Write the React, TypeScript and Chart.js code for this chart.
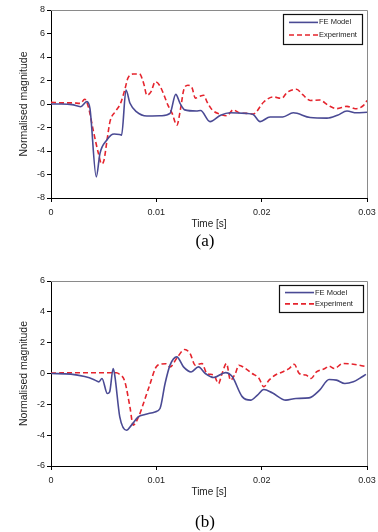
import React, { useEffect, useRef } from 'react';
import { Chart, registerables } from 'chart.js';
Chart.register(...registerables);

// ---------- data (time in seconds, normalised magnitude) ----------
const xTicks = [0, 0.01, 0.02, 0.03];
const seriesNames = ['FE Model', 'Experiment'];
const captions = ['(a)', '(b)'];

const feATime = [0, 0.001, 0.002, 0.0028, 0.0034, 0.0037, 0.0043, 0.00465, 0.0053, 0.0057, 0.006, 0.0065, 0.0067, 0.00712, 0.0075, 0.0081, 0.0091, 0.0105, 0.0113, 0.01184, 0.01225, 0.0127, 0.0138, 0.0142, 0.0151, 0.0161, 0.017, 0.0185, 0.0192, 0.01985, 0.0208, 0.022, 0.023, 0.0246, 0.0262, 0.0272, 0.0281, 0.029, 0.03];
const feAVal = [0, 0, -0.05, -0.23, 0.2, -0.4, -6.2, -4.2, -3.06, -2.64, -2.55, -2.6, -2.65, 1.19, 0.06, -0.65, -1.02, -1.0, -0.8, 0.82, 0.06, -0.5, -0.6, -0.55, -1.5, -0.95, -0.74, -0.8, -0.9, -1.5, -1.1, -1.1, -0.75, -1.15, -1.2, -0.95, -0.6, -0.75, -0.7];

const expATime = [0, 0.001, 0.002, 0.0028, 0.0032, 0.00355, 0.004, 0.0045, 0.0048, 0.00503, 0.0053, 0.0056, 0.0061, 0.0066, 0.007, 0.0073, 0.0078, 0.0084, 0.0088, 0.0091, 0.0095, 0.0099, 0.0103, 0.0108, 0.0111, 0.0115, 0.01195, 0.0123, 0.0126, 0.013, 0.0134, 0.0137, 0.0141, 0.0145, 0.0148, 0.0153, 0.016, 0.0167, 0.0173, 0.0179, 0.0186, 0.0192, 0.0202, 0.0211, 0.0219, 0.0224, 0.0233, 0.0239, 0.0246, 0.0255, 0.0263, 0.0271, 0.0281, 0.0289, 0.0297, 0.03];
const expAVal = [0.15, 0.1, 0.1, 0.05, 0.4, -0.25, -2.2, -4.2, -5.1, -4.8, -3.2, -1.5, -0.65, 0.05, 1.2, 2.2, 2.55, 2.55, 1.75, 0.75, 1.05, 1.9, 1.6, 0.6, -0.1, -0.8, -1.8, -0.4, 1.2, 1.6, 1.35, 0.5, 0.65, 0.75, 0.2, -0.5, -0.85, -1.0, -0.5, -0.75, -0.8, -0.85, 0.17, 0.6, 0.48, 0.97, 1.26, 0.8, 0.3, 0.34, -0.1, -0.4, -0.2, -0.4, -0.1, 0.3];

const feBTime = [0, 0.0019, 0.0032, 0.0041, 0.00455, 0.00484, 0.00535, 0.00557, 0.0059, 0.00605, 0.00653, 0.00717, 0.00764, 0.00828, 0.00892, 0.00987, 0.01035, 0.01083, 0.0113, 0.01194, 0.01258, 0.0133, 0.014, 0.01465, 0.01545, 0.01656, 0.0172, 0.01815, 0.01895, 0.0196, 0.0202, 0.021, 0.0223, 0.02325, 0.0245, 0.0255, 0.0264, 0.0271, 0.0279, 0.0287, 0.0293, 0.0299];
const feBVal = [0, -0.04, -0.2, -0.4, -0.54, -0.32, -1.3, -1.19, 0.32, -0.1, -2.81, -3.68, -3.35, -2.81, -2.66, -2.49, -2.27, -0.65, 0.54, 1.08, 0.43, 0.1, 0.43, 0, -0.26, 0.06, -0.2, -1.5, -1.73, -1.4, -1.04, -1.25, -1.73, -1.62, -1.58, -1.08, -0.39, -0.43, -0.65, -0.54, -0.32, -0.06];

const expBTime = [0, 0.003, 0.0062, 0.0065, 0.007, 0.0075, 0.0078, 0.0083, 0.0088, 0.0093, 0.0101, 0.0109, 0.0113, 0.012, 0.0127, 0.0132, 0.0137, 0.01433, 0.0148, 0.01545, 0.0159, 0.01624, 0.01666, 0.01704, 0.0175, 0.01783, 0.01847, 0.0191, 0.01975, 0.0202, 0.0207, 0.0213, 0.02197, 0.0226, 0.0231, 0.02357, 0.0242, 0.0247, 0.0252, 0.026, 0.0264, 0.0269, 0.0277, 0.0287, 0.0293, 0.03];
const expBVal = [0.03, 0.05, 0.05, -0.05, -0.5, -2.2, -3.35, -2.83, -1.9, -0.89, 0.52, 0.63, 0.43, 1.06, 1.56, 1.3, 0.54, 0.65, 0, -0.1, -0.65, 0, 0.65, -0.43, 0, 0.54, 0.32, 0, -0.32, -0.86, -0.43, -0.1, 0.1, 0.32, 0.6, 0, -0.1, -0.32, 0.1, 0.32, 0.48, 0.32, 0.65, 0.6, 0.54, 0.43];

// ---------- styling ----------
const SANS = '"Liberation Sans", Arial, sans-serif';
const FE_COLOR = '#4a4a94';
const EXP_COLOR = '#e5242d';
const TEXT_COLOR = '#222';

function pts(xs: number[], ys: number[]) {
  return xs.map((x, i) => ({ x, y: ys[i] }));
}

const framePlugin = {
  id: 'frameLegend',
  beforeDatasetsDraw(chart: any) {
    const { ctx, chartArea } = chart;
    ctx.save();
    ctx.strokeStyle = '#8a8a8a';
    ctx.lineWidth = 1;
    ctx.beginPath();
    ctx.moveTo(chartArea.left, chartArea.top + 0.5);
    ctx.lineTo(chartArea.right + 0.5, chartArea.top + 0.5);
    ctx.lineTo(chartArea.right + 0.5, chartArea.bottom);
    ctx.stroke();
    ctx.restore();
  },
  afterDraw(chart: any, _args: any, opts: any) {
    const { ctx, chartArea } = chart;
    const w = opts.w, h = opts.h;
    const x0 = chartArea.right - opts.offRight - w;
    const y0 = chartArea.top + opts.offTop;
    ctx.save();
    ctx.fillStyle = '#fff';
    ctx.fillRect(x0, y0, w, h);
    ctx.strokeStyle = '#111';
    ctx.lineWidth = 1.2;
    ctx.strokeRect(x0 + 0.5, y0 + 0.5, w, h);
    chart.data.datasets.forEach((ds: any, i: number) => {
      const y = y0 + h * (i === 0 ? 0.28 : 0.7);
      ctx.strokeStyle = ds.borderColor;
      ctx.lineWidth = ds.borderWidth;
      ctx.setLineDash(ds.borderDash || []);
      ctx.beginPath();
      ctx.moveTo(x0 + 6, y);
      ctx.lineTo(x0 + 35, y);
      ctx.stroke();
      ctx.setLineDash([]);
      ctx.fillStyle = '#222';
      ctx.font = `7.5px ${SANS}`;
      ctx.textBaseline = 'middle';
      ctx.textAlign = 'left';
      ctx.fillText(ds.label, x0 + 36, y);
    });
    ctx.restore();
  },
};

type PanelProps = {
  feX: number[]; feY: number[]; exX: number[]; exY: number[];
  yMin: number; yMax: number; padTop: number; top: number;
  legend: { w: number; h: number; offRight: number; offTop: number };
};

function Panel(p: PanelProps) {
  const ref = useRef<HTMLCanvasElement | null>(null);
  useEffect(() => {
    if (!ref.current) return;
    const chart = new Chart(ref.current, {
      type: 'line',
      data: {
        datasets: [
          {
            label: seriesNames[0],
            data: pts(p.feX, p.feY),
            borderColor: FE_COLOR,
            borderWidth: 1.6,
            pointRadius: 0,
            cubicInterpolationMode: 'monotone',
            fill: false,
          },
          {
            label: seriesNames[1],
            data: pts(p.exX, p.exY),
            borderColor: EXP_COLOR,
            borderWidth: 1.6,
            borderDash: [5, 3],
            pointRadius: 0,
            cubicInterpolationMode: 'monotone',
            fill: false,
          },
        ],
      } as any,
      options: {
        responsive: false,
        animation: false,
        devicePixelRatio: 1,
        layout: { padding: { top: p.padTop, right: 11, left: 0, bottom: 0 } },
        plugins: {
          legend: { display: false },
          tooltip: { enabled: false },
          frameLegend: p.legend,
        } as any,
        scales: {
          x: {
            type: 'linear',
            min: 0,
            max: 0.03,
            afterBuildTicks: (s: any) => { s.ticks = xTicks.map((v) => ({ value: v })); },
            afterFit: (s: any) => { s.height = 34; s.paddingLeft = 0; s.paddingRight = 0; },
            border: { display: true, color: '#000', width: 1 },
            grid: { display: true, drawOnChartArea: false, drawTicks: true, tickLength: 4, color: '#000' },
            ticks: {
              color: TEXT_COLOR,
              font: { family: SANS, size: 9 },
              padding: 5,
              maxRotation: 0,
              callback: (v: any) => (v === 0 ? '0' : String(+Number(v).toFixed(2))),
            },
            title: {
              display: true,
              text: 'Time [s]',
              color: TEXT_COLOR,
              font: { family: SANS, size: 10 },
              padding: { top: 0, bottom: 2 },
            },
          },
          y: {
            type: 'linear',
            min: p.yMin,
            max: p.yMax,
            afterFit: (s: any) => { s.width = 51; s.paddingTop = 0; s.paddingBottom = 0; },
            border: { display: true, color: '#000', width: 1 },
            grid: { display: true, drawOnChartArea: false, drawTicks: true, tickLength: 4, color: '#000' },
            ticks: {
              stepSize: 2,
              color: TEXT_COLOR,
              font: { family: SANS, size: 9 },
              padding: 2,
            },
            title: {
              display: true,
              text: 'Normalised magnitude',
              color: TEXT_COLOR,
              font: { family: SANS, size: 10.5 },
              padding: { top: 18, bottom: 0 },
            },
          },
        },
      } as any,
      plugins: [framePlugin],
    });
    return () => chart.destroy();
  }, []);
  return (
    <canvas
      ref={ref}
      width={378}
      height={232}
      style={{ position: 'absolute', left: 0, top: p.top, width: 378, height: 232 }}
    />
  );
}

export default function App() {
  const capStyle: React.CSSProperties = {
    position: 'absolute',
    left: 0,
    width: 410,
    textAlign: 'center',
    fontFamily: '"Liberation Serif", "Times New Roman", serif',
    fontSize: 17,
    color: '#000',
    lineHeight: '20px',
  };
  return (
    <div style={{ position: 'absolute', left: 0, top: 0, width: 378, height: 532, background: '#fff', overflow: 'hidden' }}>
      <Panel feX={feATime} feY={feAVal} exX={expATime} exY={expAVal} yMin={-8} yMax={8} padTop={10} top={0}
        legend={{ w: 79, h: 30, offRight: 5, offTop: 4 }} />
      <div style={{ ...capStyle, top: 231 }}>{captions[0]}</div>
      <Panel feX={feBTime} feY={feBVal} exX={expBTime} exY={expBVal} yMin={-6} yMax={6} padTop={13} top={268}
        legend={{ w: 84, h: 27, offRight: 4, offTop: 4 }} />
      <div style={{ ...capStyle, top: 512 }}>{captions[1]}</div>
    </div>
  );
}
